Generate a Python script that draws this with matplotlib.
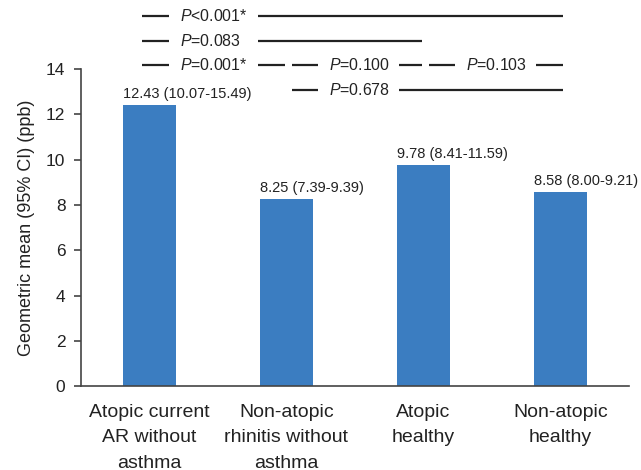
import matplotlib
matplotlib.use("Agg")
import matplotlib.pyplot as plt

plt.rcParams['font.family'] = ['Liberation Sans', 'DejaVu Sans']
plt.rcParams['mathtext.fontset'] = 'custom'
plt.rcParams['mathtext.it'] = 'Liberation Sans:italic'
plt.rcParams['mathtext.rm'] = 'Liberation Sans'

# DATA
groups = ["Atopic current\nAR without\nasthma",
          "Non-atopic\nrhinitis without\nasthma",
          "Atopic\nhealthy",
          "Non-atopic\nhealthy"]
geo_mean = [12.43, 8.25, 9.78, 8.58]
ci_text = ["12.43 (10.07-15.49)", "8.25 (7.39-9.39)",
           "9.78 (8.41-11.59)", "8.58 (8.00-9.21)"]
y_ticks = [0, 2, 4, 6, 8, 10, 12, 14]

# pairwise comparisons: (group i, group j, p label, row)
comp_i = [0, 0, 0, 1, 2, 1]
comp_j = [3, 2, 1, 2, 3, 3]
comp_p = ["$P$<0.001*", "$P$=0.083", "$P$=0.001*", "$P$=0.100", "$P$=0.103", "$P$=0.678"]
comp_row = [0, 1, 2, 2, 2, 3]

bar_color = '#3b7dc1'
ink = '#222222'
bar_w = 0.385
row_y = [16.35, 15.26, 14.16, 13.09]

fig = plt.figure(figsize=(6.41, 4.70), dpi=100)
ax = fig.add_axes([0.126, 0.178, 0.855, 0.675])

x = list(range(len(groups)))
ax.bar(x, geo_mean, width=bar_w, color=bar_color, zorder=2)

for xi, v, t in zip(x, geo_mean, ci_text):
    ax.annotate(t, (xi - bar_w / 2, v), xytext=(0, 3), textcoords='offset points',
                ha='left', va='bottom', fontsize=10.5, color=ink)

# comparison lines, broken where the P value sits
for k in range(len(comp_i)):
    i, j, row = comp_i[k], comp_j[k], comp_row[k]
    left = i - 0.05 if i == 0 else i + 0.04
    right = j + 0.02 if j == 3 else j - 0.01
    y = row_y[row]
    tx = i + 0.225 if i == 0 else i + 0.31
    gap_end = tx + (0.565 if i == 0 else 0.51)
    ax.plot([left, tx - 0.08], [y, y], color=ink, lw=1.6, clip_on=False,
            solid_capstyle='butt')
    ax.plot([gap_end, right], [y, y], color=ink, lw=1.6, clip_on=False,
            solid_capstyle='butt')
    ax.text(tx, y, comp_p[k], ha='left', va='center', fontsize=11.4, color=ink)

ax.set_xlim(-0.5, 3.5)
ax.set_ylim(0, 14)
ax.set_yticks(y_ticks)
ax.set_xticks(x)
ax.set_xticklabels(groups, fontsize=14, linespacing=1.65, color=ink)
ax.tick_params(axis='x', length=0, pad=12.5)
ax.tick_params(axis='y', labelsize=12.5, length=5, width=1.2, color='#444444',
               labelcolor=ink, pad=6)
ax.set_ylabel("Geometric mean (95% CI) (ppb)", fontsize=13, color=ink, labelpad=8)

for s in ['top', 'right']:
    ax.spines[s].set_visible(False)
for s in ['left', 'bottom']:
    ax.spines[s].set_color('#444444')
    ax.spines[s].set_linewidth(1.2)

fig.savefig("out.png", dpi=100)
